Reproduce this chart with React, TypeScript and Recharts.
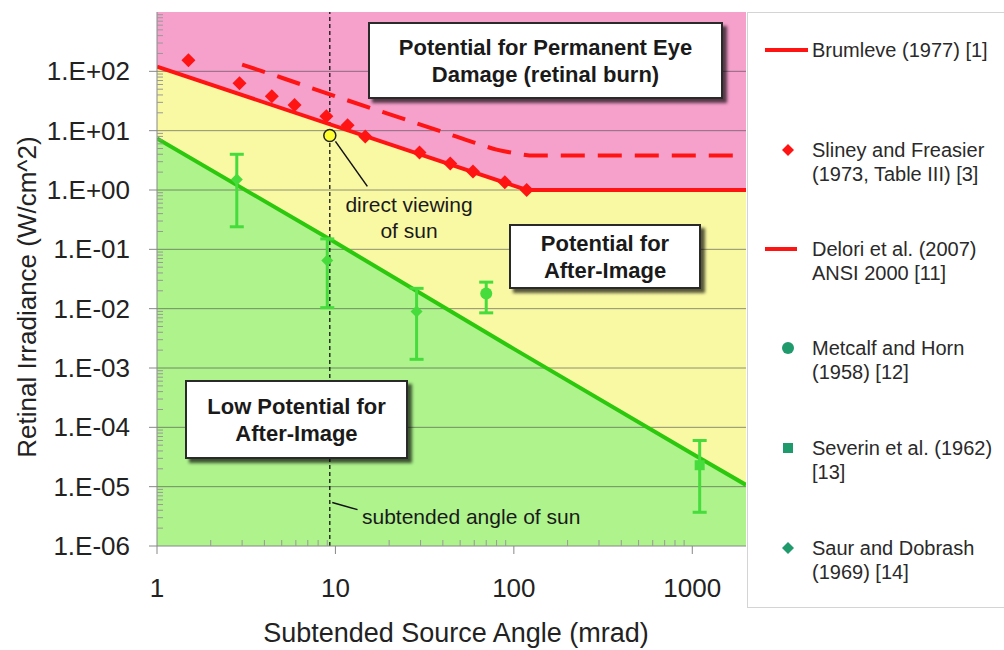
import React from "react";
import {
  ComposedChart,
  Area,
  Line,
  Scatter,
  ErrorBar,
  XAxis,
  YAxis,
  CartesianGrid,
  ReferenceLine,
  ReferenceDot,
} from "recharts";

const FONT = "Arial, 'Liberation Sans', Helvetica, sans-serif";

const PINK = "#f6a0cc";
const YELLOW = "#f9f9a4";
const GREEN_FILL = "#aef38c";
const RED = "#ff1414";
const GREEN_LINE = "#2cc80e";
const GREEN_MARK = "#45dc3c";
const TEAL = "#1f9a6c";

// axes
const xDomain = [1, 2000];
const yDomain = [1e-6, 1e3];
const xMajorTicks = [1, 10, 100, 1000];
const yMajorTicks = [1e-6, 1e-5, 1e-4, 1e-3, 1e-2, 1e-1, 1, 10, 100];

// Brumleve (1977) [1]
const brumleveAngle = [1, 118, 2000];
const brumleveIrr = [120, 1, 1];

// Delori et al. (2007) ANSI 2000 [11]
const deloriAngle = [3, 5, 10, 20, 40, 60, 80, 100, 130, 200, 500, 1800];
const deloriIrr = [130, 78, 38, 19, 9.5, 6.3, 4.8, 4.2, 3.8, 3.8, 3.8, 3.8];

// after-image threshold (green line)
const afterAngle = [1, 10, 100, 1000, 2000];
const afterIrr = [7.4, 0.13, 0.0021, 3.6e-5, 1.07e-5];

// Sliney and Freasier (1973, Table III) [3]
const slineyAngle = [1.5, 2.9, 4.4, 5.9, 8.9, 11.7, 14.7, 29.6, 44, 59, 89, 118];
const slineyIrr = [153, 63, 38, 27, 17.5, 12.3, 8, 4.3, 2.8, 2.05, 1.35, 1.0];

// Saur and Dobrash (1969) [14]
const saurAngle = [2.8, 9, 28.5];
const saurIrr = [1.5, 0.065, 0.009];
const saurLow = [0.24, 0.0104, 0.0014];
const saurHigh = [4, 0.15, 0.022];

// Metcalf and Horn (1958) [12]
const metcalfAngle = [70];
const metcalfIrr = [0.018];
const metcalfLow = [0.0085];
const metcalfHigh = [0.028];

// Severin et al. (1962) [13]
const severinAngle = [1100];
const severinIrr = [2.3e-5];
const severinLow = [3.7e-6];
const severinHigh = [6e-5];

// sun
const sunAngle = 9.3;
const sunIrr = 8.3;

const toPoints = (xs: number[], ys: number[]) => xs.map((x, i) => ({ x, y: ys[i] }));
const toErrPoints = (xs: number[], ys: number[], lo: number[], hi: number[]) =>
  xs.map((x, i) => ({ x, y: ys[i], err: [ys[i] - lo[i], hi[i] - ys[i]] }));

const minorTicks = (majors: number[], max: number) => {
  const out: number[] = [];
  majors.forEach((d) => {
    for (let k = 2; k <= 9; k++) {
      const v = k * d;
      if (v < max) out.push(v);
    }
  });
  return out;
};

const xTicks = [...xMajorTicks, ...minorTicks(xMajorTicks, xDomain[1])];
const yTicks = [...yMajorTicks, ...minorTicks(yMajorTicks, yDomain[1])];

const formatExp = (v: number) => {
  const e = Math.round(Math.log10(v));
  const sign = e < 0 ? "-" : "+";
  return `1.E${sign}${String(Math.abs(e)).padStart(2, "0")}`;
};

const XTick = (props: any) => {
  const { x, y, payload } = props;
  const v = payload.value;
  if (xMajorTicks.includes(v)) {
    return (
      <g>
        <line x1={x} x2={x} y1={y} y2={y + 8} stroke="#888" />
        <text x={x} y={y + 42} textAnchor="middle" dominantBaseline="central" fontSize={26} fill="#222" fontFamily={FONT}>
          {v}
        </text>
      </g>
    );
  }
  return <line x1={x} x2={x} y1={y} y2={y - 6} stroke="#999" />;
};

const YTick = (props: any) => {
  const { x, y, payload } = props;
  const v = payload.value;
  if (yMajorTicks.includes(v)) {
    return (
      <g>
        <line x1={x - 8} x2={x} y1={y} y2={y} stroke="#888" />
        <text x={x - 27} y={y} textAnchor="end" dominantBaseline="central" fontSize={26} fill="#222" fontFamily={FONT}>
          {formatExp(v)}
        </text>
      </g>
    );
  }
  return <line x1={x} x2={x + 6} y1={y} y2={y} stroke="#999" />;
};

const diamond = (r: number, fill: string) => (props: any) => {
  const { cx, cy } = props;
  return <polygon points={`${cx},${cy - r} ${cx + r},${cy} ${cx},${cy + r} ${cx - r},${cy}`} fill={fill} />;
};
const circle = (r: number, fill: string) => (props: any) => <circle cx={props.cx} cy={props.cy} r={r} fill={fill} />;
const square = (r: number, fill: string) => (props: any) => (
  <rect x={props.cx - r} y={props.cy - r} width={2 * r} height={2 * r} fill={fill} />
);

const boxBase: React.CSSProperties = {
  position: "absolute",
  boxSizing: "border-box",
  border: "2px solid #2a2a2a",
  background: "#fff",
  boxShadow: "4px 4px 3px rgba(0,0,0,0.65)",
  display: "flex",
  alignItems: "center",
  justifyContent: "center",
  textAlign: "center",
  fontWeight: "bold",
  fontSize: 22,
  lineHeight: "27px",
  color: "#1a1a1a",
};

type LegendItem = { lines: string[]; kind: "line" | "dash" | "diamondRed" | "circle" | "square" | "diamond"; y: number };
const legendItems: LegendItem[] = [
  { lines: ["Brumleve (1977) [1]"], kind: "line", y: 50 },
  { lines: ["Sliney and Freasier", "(1973, Table III) [3]"], kind: "diamondRed", y: 150 },
  { lines: ["Delori et al. (2007)", "ANSI 2000 [11]"], kind: "dash", y: 249 },
  { lines: ["Metcalf and Horn", "(1958) [12]"], kind: "circle", y: 348 },
  { lines: ["Severin et al. (1962)", "[13]"], kind: "square", y: 448 },
  { lines: ["Saur and Dobrash", "(1969) [14]"], kind: "diamond", y: 548 },
];

const LegendIcon = ({ kind }: { kind: LegendItem["kind"] }) => {
  if (kind === "line") return <line x1={18} x2={61} y1={12} y2={12} stroke={RED} strokeWidth={4} />;
  if (kind === "dash") return <line x1={18} x2={50} y1={12} y2={12} stroke={RED} strokeWidth={4} />;
  if (kind === "diamondRed") return <polygon points="41,6 47,12 41,18 35,12" fill={RED} />;
  if (kind === "circle") return <circle cx={41} cy={12} r={6} fill={TEAL} />;
  if (kind === "square") return <rect x={36} y={7} width={10} height={10} fill={TEAL} />;
  return <polygon points="41,6 47,12 41,18 35,12" fill={TEAL} />;
};

export default function App() {
  return (
    <div style={{ position: "absolute", left: 0, top: 0, width: 1004, height: 650, background: "#fff", fontFamily: FONT, overflow: "hidden" }}>
      <ComposedChart width={750} height={650} margin={{ top: 12, right: 4, bottom: 0, left: 0 }}>
        <CartesianGrid fill={PINK} fillOpacity={1} horizontal={false} vertical={false} />
        <XAxis
          dataKey="x"
          type="number"
          scale="log"
          domain={xDomain}
          allowDataOverflow
          ticks={xTicks}
          interval={0}
          tick={<XTick />}
          tickSize={0}
          tickMargin={0}
          tickLine={false}
          height={104}
          axisLine={{ stroke: "#888" }}
        />
        <YAxis
          dataKey="y"
          type="number"
          scale="log"
          domain={yDomain}
          allowDataOverflow
          ticks={yTicks}
          interval={0}
          tick={<YTick />}
          tickSize={0}
          tickMargin={0}
          tickLine={false}
          width={157}
          axisLine={{ stroke: "#888" }}
        />
        <Area
          data={toPoints(brumleveAngle, brumleveIrr)}
          dataKey="y"
          type="linear"
          baseValue={1e-6}
          fill={YELLOW}
          fillOpacity={1}
          stroke="none"
          isAnimationActive={false}
        />
        <Area
          data={toPoints(afterAngle, afterIrr)}
          dataKey="y"
          type="linear"
          baseValue={1e-6}
          fill={GREEN_FILL}
          fillOpacity={1}
          stroke="none"
          isAnimationActive={false}
        />
        {yMajorTicks.slice(1).map((v) => (
          <ReferenceLine key={v} y={v} stroke="#4a4a4a" strokeOpacity={0.6} strokeWidth={1} />
        ))}
        <ReferenceLine x={sunAngle} stroke="#111" strokeDasharray="4 3" strokeWidth={1.3} />
        <ReferenceLine segment={[{ x: 10, y: 6.6 }, { x: 15.1, y: 1.15 }]} stroke="#111" strokeWidth={1.5} />
        <ReferenceLine segment={[{ x: 9.6, y: 5.4e-6 }, { x: 13.3, y: 4.1e-6 }]} stroke="#111" strokeWidth={1.5} />
        <Line
          data={toPoints(afterAngle, afterIrr)}
          dataKey="y"
          type="linear"
          stroke={GREEN_LINE}
          strokeWidth={4}
          dot={false}
          isAnimationActive={false}
        />
        <Line
          data={toPoints(brumleveAngle, brumleveIrr)}
          dataKey="y"
          type="linear"
          stroke={RED}
          strokeWidth={4}
          dot={false}
          isAnimationActive={false}
        />
        <Line
          data={toPoints(deloriAngle, deloriIrr)}
          dataKey="y"
          type="monotone"
          stroke={RED}
          strokeWidth={4}
          strokeDasharray="24 13"
          dot={false}
          isAnimationActive={false}
        />
        <Scatter data={toPoints(slineyAngle, slineyIrr)} dataKey="y" shape={diamond(7, RED)} isAnimationActive={false} />
        <Scatter data={toErrPoints(saurAngle, saurIrr, saurLow, saurHigh)} dataKey="y" shape={diamond(6, GREEN_MARK)} isAnimationActive={false}>
          <ErrorBar dataKey="err" direction="y" width={7} stroke={GREEN_MARK} strokeWidth={3} />
        </Scatter>
        <Scatter data={toErrPoints(metcalfAngle, metcalfIrr, metcalfLow, metcalfHigh)} dataKey="y" shape={circle(6, GREEN_MARK)} isAnimationActive={false}>
          <ErrorBar dataKey="err" direction="y" width={7} stroke={GREEN_MARK} strokeWidth={3} />
        </Scatter>
        <Scatter data={toErrPoints(severinAngle, severinIrr, severinLow, severinHigh)} dataKey="y" shape={square(5, GREEN_MARK)} isAnimationActive={false}>
          <ErrorBar dataKey="err" direction="y" width={7} stroke={GREEN_MARK} strokeWidth={3} />
        </Scatter>
        <ReferenceDot x={sunAngle} y={sunIrr} r={6} fill="#ffff30" stroke="#222" strokeWidth={1.5} />
      </ComposedChart>

      {/* axis titles */}
      <svg width={1004} height={650} style={{ position: "absolute", left: 0, top: 0, pointerEvents: "none" }}>
        <text x={456} y={633} textAnchor="middle" dominantBaseline="central" fontSize={27} fill="#222" fontFamily={FONT}>
          Subtended Source Angle (mrad)
        </text>
        <text
          x={27}
          y={297}
          transform="rotate(-90, 27, 297)"
          textAnchor="middle"
          dominantBaseline="central"
          fontSize={26}
          fill="#222"
          fontFamily={FONT}
        >
          Retinal Irradiance (W/cm^2)
        </text>
      </svg>

      {/* region labels */}
      <div style={{ ...boxBase, left: 368, top: 22, width: 355, height: 77 }}>
        Potential for Permanent Eye
        <br />
        Damage (retinal burn)
      </div>
      <div style={{ ...boxBase, left: 509, top: 224, width: 192, height: 65 }}>
        Potential for
        <br />
        After-Image
      </div>
      <div style={{ ...boxBase, left: 185, top: 380, width: 223, height: 79 }}>
        Low Potential for
        <br />
        After-Image
      </div>

      {/* annotations */}
      <div style={{ position: "absolute", left: 329, top: 192, width: 160, textAlign: "center", fontSize: 21, lineHeight: "26px", color: "#1a1a1a" }}>
        direct viewing
        <br />
        of sun
      </div>
      <div style={{ position: "absolute", left: 362, top: 504, fontSize: 21, lineHeight: "26px", color: "#1a1a1a", whiteSpace: "nowrap" }}>
        subtended angle of sun
      </div>

      {/* legend */}
      <div style={{ position: "absolute", left: 747, top: 12, width: 270, height: 596, boxSizing: "border-box", border: "1px solid #d4d4d4", background: "#fff" }} />
      {legendItems.map((item) => (
        <div key={item.lines[0]} style={{ position: "absolute", left: 747, top: item.y - 12, width: 257 }}>
          <svg width={66} height={24} style={{ position: "absolute", left: 0, top: 0 }}>
            <LegendIcon kind={item.kind} />
          </svg>
          <div style={{ position: "absolute", left: 65, top: 0, fontSize: 20, lineHeight: "24px", color: "#2a2a2a", whiteSpace: "nowrap" }}>
            {item.lines.map((l) => (
              <div key={l}>{l}</div>
            ))}
          </div>
        </div>
      ))}
    </div>
  );
}
